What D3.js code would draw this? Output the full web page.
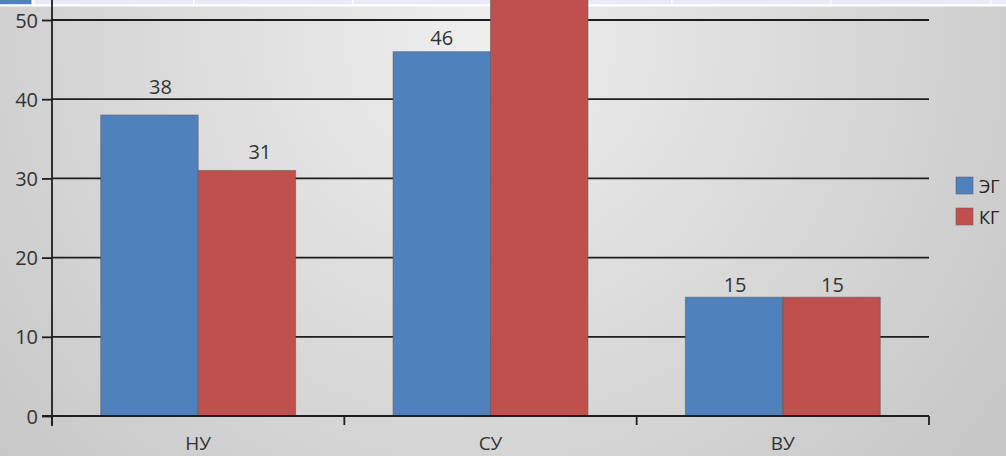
<!DOCTYPE html>
<html>
<head>
<meta charset="utf-8">
<script src="https://cdn.jsdelivr.net/npm/d3@7"></script>
<style>
html,body{margin:0;padding:0;overflow:hidden;background:#d0d0d0;}
svg{display:block;}
</style>
</head>
<body>
<svg id="c" width="1006" height="456"></svg>
<script>
const categories = ["НУ", "СУ", "ВУ"];
const seriesNames = ["ЭГ", "КГ"];
const egValues = [38, 46, 15];
const kgValues = [31, 54, 15];
const yTicks = [0, 10, 20, 30, 40, 50];
const seriesColors = ["#4f81bd", "#c0504d"];

// label nudges (manual placement as in the picture): [dx, gap above bar]
const labelNudge = [[[11, 21], [13, 11]], [[0, 7], [0, 7]], [[1, 5], [1, 5]]];

const W = 1006, H = 456;
const svg = d3.select("#c");
const defs = svg.append("defs");
const rg = defs.append("radialGradient").attr("id", "bg")
  .attr("gradientUnits", "userSpaceOnUse")
  .attr("cx", 480).attr("cy", 40).attr("r", 720);
rg.append("stop").attr("offset", "0").attr("stop-color", "#eeeeee");
rg.append("stop").attr("offset", "1").attr("stop-color", "#c2c2c2");
svg.append("rect").attr("width", W).attr("height", H).attr("fill", "url(#bg)");

// top strip (cropped UI row)
svg.append("rect").attr("x", 0).attr("y", 0).attr("width", W).attr("height", 6.5).attr("fill", "#ffffff");
const cellEdges = [0, 33, 193, 352, 512, 671, 830, 990, 1006];
for (let i = 0; i < cellEdges.length - 1; i++) {
  svg.append("rect").attr("x", cellEdges[i] + (i ? 1.5 : 0)).attr("y", 0)
    .attr("width", cellEdges[i + 1] - cellEdges[i] - 1.5).attr("height", 4.2)
    .attr("fill", i === 0 ? "#4f81bd" : "#e6ebf5");
}

const x0 = d3.scaleBand().domain(categories).range([52, 929]).padding(0);
const bw = x0.bandwidth();
const x1 = d3.scaleBand().domain(seriesNames).range([bw / 6, bw * 5 / 6]).padding(0);
const y = d3.scaleLinear().domain([0, 60]).range([416, 416 - 6 * 79.2]);

const FONT = "'Open Sans', 'DejaVu Sans', sans-serif";
const lineCol = "#1e1e1e";

// gridlines
svg.append("g").selectAll("line").data(yTicks.filter(t => t > 0)).join("line")
  .attr("x1", 52).attr("x2", 929)
  .attr("y1", d => y(d)).attr("y2", d => y(d))
  .attr("stroke", lineCol).attr("stroke-width", 1.8);

// bars
const seriesVals = [egValues, kgValues];
const gBars = svg.append("g");
categories.forEach((c, ci) => {
  seriesNames.forEach((s, si) => {
    const v = seriesVals[si][ci];
    gBars.append("rect")
      .attr("x", x0(c) + x1(s)).attr("width", x1.bandwidth())
      .attr("y", y(v)).attr("height", y(0) - y(v))
      .attr("fill", seriesColors[si])
      .attr("stroke", "rgba(90,90,90,0.55)").attr("stroke-width", 1);
  });
});

// data labels (the label of a bar that runs past the top of the crop is not visible)
categories.forEach((c, ci) => {
  seriesNames.forEach((s, si) => {
    const v = seriesVals[si][ci];
    const [dx, gap] = labelNudge[ci][si];
    const ly = y(v) - gap;
    if (ly < 16) return;
    svg.append("text")
      .attr("x", x0(c) + x1(s) + x1.bandwidth() / 2 + dx)
      .attr("y", ly)
      .attr("text-anchor", "middle")
      .attr("font-family", FONT).attr("font-size", 20)
      .attr("fill", "#333").text(v);
  });
});

// y axis
const yAxis = d3.axisLeft(y).tickValues(yTicks).tickSize(10).tickPadding(4).tickFormat(d3.format("d"));
const gy = svg.append("g").attr("transform", "translate(52,0)").call(yAxis);
gy.select(".domain").remove();
gy.selectAll(".tick line").attr("stroke", lineCol).attr("stroke-width", 1.8);
gy.selectAll(".tick text").attr("font-family", FONT).attr("font-size", 20).attr("fill", "#333").attr("dy", "0.35em");
svg.append("line").attr("x1", 52).attr("x2", 52).attr("y1", 0).attr("y2", 426)
  .attr("stroke", lineCol).attr("stroke-width", 1.8);

// x axis
svg.append("line").attr("x1", 42).attr("x2", 929).attr("y1", 416).attr("y2", 416)
  .attr("stroke", lineCol).attr("stroke-width", 1.8);
const xTickPos = categories.map(c => x0(c)).concat([x0(categories[categories.length - 1]) + bw]);
svg.append("g").selectAll("line").data(xTickPos).join("line")
  .attr("x1", d => d).attr("x2", d => d).attr("y1", 416).attr("y2", 425)
  .attr("stroke", lineCol).attr("stroke-width", 1.8);
svg.append("g").selectAll("text").data(categories).join("text")
  .attr("x", d => x0(d) + bw / 2).attr("y", 450)
  .attr("text-anchor", "middle")
  .attr("font-family", FONT).attr("font-size", 19).attr("fill", "#333")
  .text(d => d);

// legend
const lg = svg.append("g");
seriesNames.forEach((s, i) => {
  lg.append("rect").attr("x", 956).attr("y", 177 + i * 31).attr("width", 17).attr("height", 17)
    .attr("fill", seriesColors[i]).attr("stroke", "rgba(90,90,90,0.5)").attr("stroke-width", 1);
  lg.append("text").attr("x", 979).attr("y", 193 + i * 31)
    .attr("font-family", FONT).attr("font-size", 18).attr("fill", "#222").text(s);
});
</script>
</body>
</html>
